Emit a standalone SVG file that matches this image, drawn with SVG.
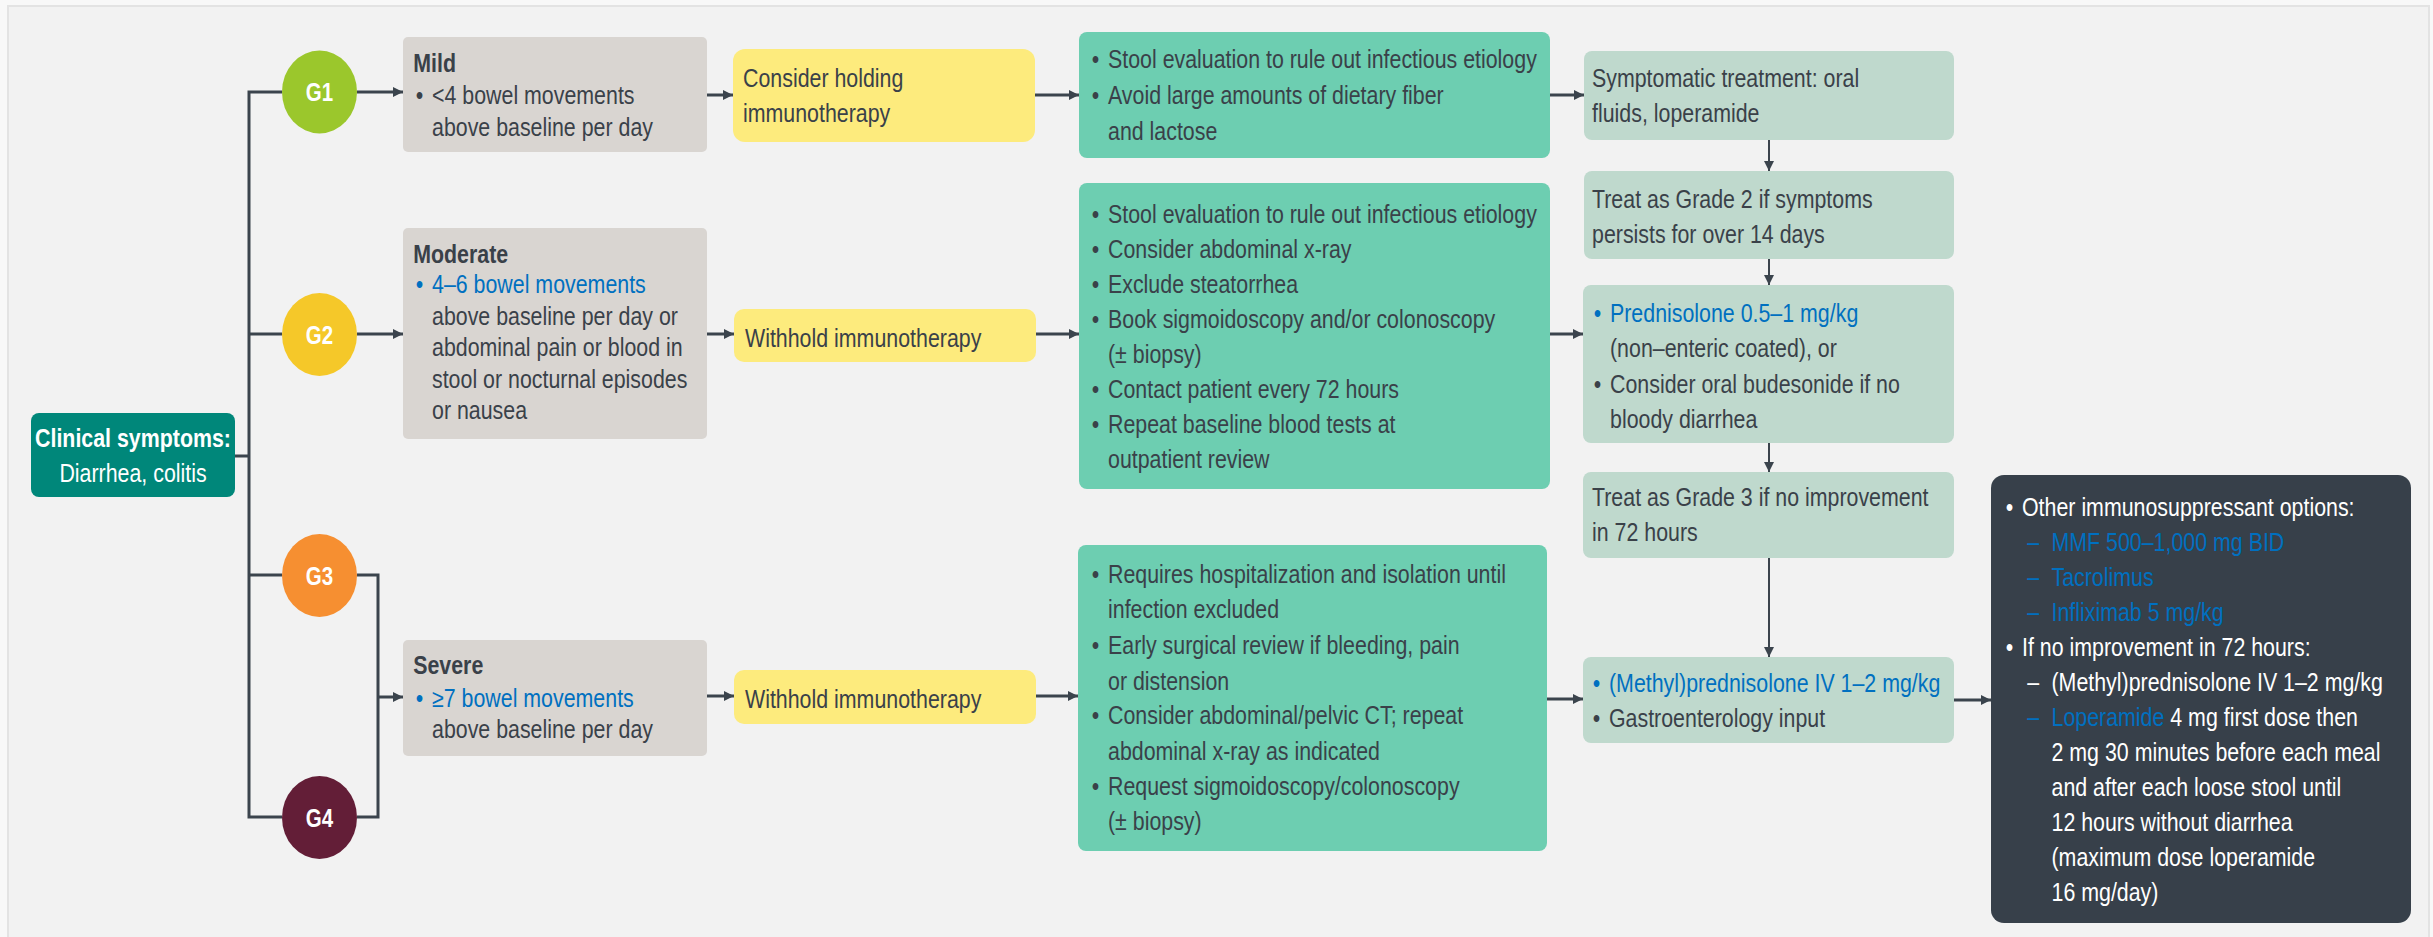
<svg xmlns="http://www.w3.org/2000/svg" width="2433" height="937" viewBox="0 0 2433 937">
<style>
.t{font-family:"Liberation Sans",Arial,sans-serif;font-size:25px;fill:#3a4149}
.b{font-weight:bold}
.w{fill:#ffffff}
.bl{fill:#0070c0}
.ln{fill:none;stroke:#3b444d;stroke-width:3}
.lv{fill:none;stroke:#3b444d;stroke-width:2}
.ar{marker-end:url(#ah)}
.gray{fill:#d9d5d1}
.yel{fill:#fdeb7d}
.grn{fill:#6dceb1}
.lg{fill:#bfd9cd}
</style>
<defs>
<marker id="ah" markerUnits="userSpaceOnUse" markerWidth="11" markerHeight="11" refX="10" refY="5" orient="auto">
<path d="M0,0 L10,5 L0,10 z" fill="#3b444d"/>
</marker>
</defs>
<rect x="0" y="0" width="2433" height="937" fill="#f8f8f8"/>
<rect x="8" y="6" width="2421" height="940" fill="#f2f2f2" stroke="#e3e3e3" stroke-width="2"/>

<g id="connectors">
<path class="ln" d="M235,456 H249"/>
<path class="ln" d="M282,92 H249 V817 H282"/>
<path class="ln" d="M249,334 H282"/>
<path class="ln" d="M249,575 H282"/>
<path class="ln ar" d="M357,92 H403"/>
<path class="ln ar" d="M357,334 H403"/>
<path class="ln" d="M357,575 H378 V817 H357"/>
<path class="ln ar" d="M378,697 H403"/>
<path class="ln ar" d="M707,95 H733"/>
<path class="ln ar" d="M707,334 H734"/>
<path class="ln ar" d="M707,696 H734"/>
<path class="ln ar" d="M1035,95 H1079"/>
<path class="ln ar" d="M1036,334 H1079"/>
<path class="ln ar" d="M1036,696 H1078"/>
<path class="ln ar" d="M1550,95 H1584"/>
<path class="ln ar" d="M1550,334 H1583"/>
<path class="ln ar" d="M1547,699 H1583"/>
<path class="lv ar" d="M1769,140 V171"/>
<path class="lv ar" d="M1769,259 V285"/>
<path class="lv ar" d="M1769,443 V472"/>
<path class="lv ar" d="M1769,558 V657"/>
<path class="ln ar" d="M1954,700 H1991"/>
</g>

<g id="clinical">
<rect x="31" y="413" width="204" height="84" rx="8" fill="#00877a"/>
<text class="t w" text-anchor="middle" transform="translate(133 0) scale(0.855 1)"><tspan class="b" x="0" y="447">Clinical symptoms:</tspan><tspan x="0" y="482">Diarrhea, colitis</tspan></text>
</g>

<g id="g1">
<ellipse cx="319.5" cy="92" rx="37.5" ry="41.5" fill="#9bc72c"/>
<text class="t w b" text-anchor="middle" transform="translate(319.5 101) scale(0.82 1)">G1</text>
</g>
<g id="g2">
<ellipse cx="319.5" cy="334.5" rx="37.5" ry="41.5" fill="#f5c829"/>
<text class="t w b" text-anchor="middle" transform="translate(319.5 343.5) scale(0.82 1)">G2</text>
</g>
<g id="g3">
<ellipse cx="319.5" cy="575.5" rx="37.5" ry="41.5" fill="#f68f31"/>
<text class="t w b" text-anchor="middle" transform="translate(319.5 584.5) scale(0.82 1)">G3</text>
</g>
<g id="g4">
<ellipse cx="319.5" cy="817.5" rx="37.5" ry="41.5" fill="#631e37"/>
<text class="t w b" text-anchor="middle" transform="translate(319.5 826.5) scale(0.82 1)">G4</text>
</g>

<g id="mild">
<rect class="gray" x="403" y="37" width="304" height="115" rx="5"/>
<text class="t" transform="translate(432 0) scale(0.855 1)"><tspan class="b" x="-22" y="72">Mild</tspan><tspan x="-19" y="104">•</tspan><tspan x="0" y="104">&lt;4 bowel movements</tspan><tspan x="0" y="136">above baseline per day</tspan></text>
</g>
<g id="moderate">
<rect class="gray" x="403" y="228" width="304" height="211" rx="5"/>
<text class="t" transform="translate(432 0) scale(0.855 1)"><tspan class="b" x="-22" y="263">Moderate</tspan><tspan class="bl" x="-19" y="293">•</tspan><tspan class="bl" x="0" y="293">4–6 bowel movements</tspan><tspan x="0" y="325">above baseline per day or</tspan><tspan x="0" y="356">abdominal pain or blood in</tspan><tspan x="0" y="388">stool or nocturnal episodes</tspan><tspan x="0" y="419">or nausea</tspan></text>
</g>
<g id="severe">
<rect class="gray" x="403" y="640" width="304" height="116" rx="5"/>
<text class="t" transform="translate(432 0) scale(0.855 1)"><tspan class="b" x="-22" y="674">Severe</tspan><tspan class="bl" x="-19" y="707">•</tspan><tspan class="bl" x="0" y="707">≥7 bowel movements</tspan><tspan x="0" y="738">above baseline per day</tspan></text>
</g>

<g id="hold1">
<rect class="yel" x="733" y="49" width="302" height="93" rx="12"/>
<text class="t" transform="translate(743 0) scale(0.855 1)"><tspan x="0" y="87">Consider holding</tspan><tspan x="0" y="122">immunotherapy</tspan></text>
</g>
<g id="hold2">
<rect class="yel" x="734" y="309" width="302" height="53" rx="10"/>
<text class="t" transform="translate(745 347) scale(0.855 1)">Withhold immunotherapy</text>
</g>
<g id="hold3">
<rect class="yel" x="734" y="670" width="302" height="54" rx="10"/>
<text class="t" transform="translate(745 708) scale(0.855 1)">Withhold immunotherapy</text>
</g>

<g id="eval1">
<rect class="grn" x="1079" y="32" width="471" height="126" rx="8"/>
<text class="t" transform="translate(1108 0) scale(0.855 1)"><tspan x="-19" y="68">•</tspan><tspan x="0" y="68">Stool evaluation to rule out infectious etiology</tspan><tspan x="-19" y="104">•</tspan><tspan x="0" y="104">Avoid large amounts of dietary fiber</tspan><tspan x="0" y="140">and lactose</tspan></text>
</g>
<g id="eval2">
<rect class="grn" x="1079" y="183" width="471" height="306" rx="8"/>
<text class="t" transform="translate(1108 0) scale(0.855 1)"><tspan x="-19" y="223">•</tspan><tspan x="0" y="223">Stool evaluation to rule out infectious etiology</tspan><tspan x="-19" y="258">•</tspan><tspan x="0" y="258">Consider abdominal x-ray</tspan><tspan x="-19" y="293">•</tspan><tspan x="0" y="293">Exclude steatorrhea</tspan><tspan x="-19" y="328">•</tspan><tspan x="0" y="328">Book sigmoidoscopy and/or colonoscopy</tspan><tspan x="0" y="363">(± biopsy)</tspan><tspan x="-19" y="398">•</tspan><tspan x="0" y="398">Contact patient every 72 hours</tspan><tspan x="-19" y="433">•</tspan><tspan x="0" y="433">Repeat baseline blood tests at</tspan><tspan x="0" y="468">outpatient review</tspan></text>
</g>
<g id="eval3">
<rect class="grn" x="1078" y="545" width="469" height="306" rx="8"/>
<text class="t" transform="translate(1108 0) scale(0.855 1)"><tspan x="-19" y="583">•</tspan><tspan x="0" y="583">Requires hospitalization and isolation until</tspan><tspan x="0" y="618">infection excluded</tspan><tspan x="-19" y="654">•</tspan><tspan x="0" y="654">Early surgical review if bleeding, pain</tspan><tspan x="0" y="690">or distension</tspan><tspan x="-19" y="724">•</tspan><tspan x="0" y="724">Consider abdominal/pelvic CT; repeat</tspan><tspan x="0" y="760">abdominal x-ray as indicated</tspan><tspan x="-19" y="795">•</tspan><tspan x="0" y="795">Request sigmoidoscopy/colonoscopy</tspan><tspan x="0" y="830">(± biopsy)</tspan></text>
</g>

<g id="symptomatic">
<rect class="lg" x="1584" y="51" width="370" height="89" rx="8"/>
<text class="t" transform="translate(1592 0) scale(0.855 1)"><tspan x="0" y="87">Symptomatic treatment: oral</tspan><tspan x="0" y="122">fluids, loperamide</tspan></text>
</g>
<g id="grade2">
<rect class="lg" x="1584" y="171" width="370" height="88" rx="8"/>
<text class="t" transform="translate(1592 0) scale(0.855 1)"><tspan x="0" y="208">Treat as Grade 2 if symptoms</tspan><tspan x="0" y="243">persists for over 14 days</tspan></text>
</g>
<g id="prednisolone">
<rect class="lg" x="1583" y="285" width="371" height="158" rx="8"/>
<text class="t" transform="translate(1610 0) scale(0.855 1)"><tspan class="bl" x="-19" y="322">•</tspan><tspan class="bl" x="0" y="322">Prednisolone 0.5–1 mg/kg</tspan><tspan x="0" y="357">(non–enteric coated), or</tspan><tspan x="-19" y="393">•</tspan><tspan x="0" y="393">Consider oral budesonide if no</tspan><tspan x="0" y="428">bloody diarrhea</tspan></text>
</g>
<g id="grade3">
<rect class="lg" x="1583" y="472" width="371" height="86" rx="8"/>
<text class="t" transform="translate(1592 0) scale(0.855 1)"><tspan x="0" y="506">Treat as Grade 3 if no improvement</tspan><tspan x="0" y="541">in 72 hours</tspan></text>
</g>
<g id="methylpred">
<rect class="lg" x="1583" y="657" width="371" height="86" rx="8"/>
<text class="t" transform="translate(1609 0) scale(0.855 1)"><tspan class="bl" x="-19" y="692">•</tspan><tspan class="bl" x="0" y="692">(Methyl)prednisolone IV 1–2 mg/kg</tspan><tspan x="-19" y="727">•</tspan><tspan x="0" y="727">Gastroenterology input</tspan></text>
</g>

<g id="options">
<rect x="1991" y="475" width="420" height="448" rx="13" fill="#37404a"/>
<text class="t w" transform="translate(2022 0) scale(0.855 1)"><tspan x="-19" y="516">•</tspan><tspan x="0" y="516">Other immunosuppressant options:</tspan><tspan class="bl" x="6" y="551">–</tspan><tspan class="bl" x="34.5" y="551">MMF 500–1,000 mg BID</tspan><tspan class="bl" x="6" y="586">–</tspan><tspan class="bl" x="34.5" y="586">Tacrolimus</tspan><tspan class="bl" x="6" y="621">–</tspan><tspan class="bl" x="34.5" y="621">Infliximab 5 mg/kg</tspan><tspan x="-19" y="656">•</tspan><tspan x="0" y="656">If no improvement in 72 hours:</tspan><tspan x="6" y="691">–</tspan><tspan x="34.5" y="691">(Methyl)prednisolone IV 1–2 mg/kg</tspan><tspan class="bl" x="6" y="726">–</tspan><tspan class="bl" x="34.5" y="726">Loperamide</tspan><tspan> 4 mg first dose then</tspan><tspan x="34.5" y="761">2 mg 30 minutes before each meal</tspan><tspan x="34.5" y="796">and after each loose stool until</tspan><tspan x="34.5" y="831">12 hours without diarrhea</tspan><tspan x="34.5" y="866">(maximum dose loperamide</tspan><tspan x="34.5" y="901">16 mg/day)</tspan></text>
</g>
</svg>
